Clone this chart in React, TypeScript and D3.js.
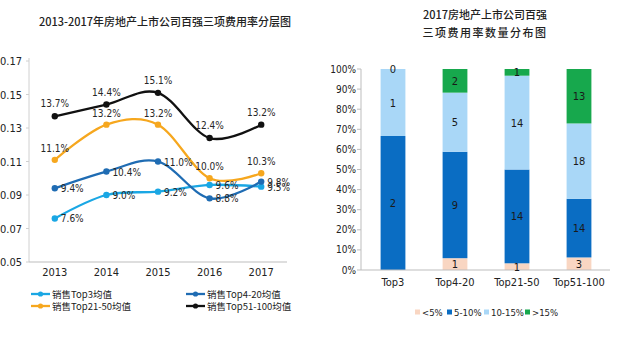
import React from "react";
import * as d3 from "d3";

// ---------- Left chart data ----------
const years = ["2013", "2014", "2015", "2016", "2017"];
const top3 = [0.076, 0.09, 0.092, 0.096, 0.095];
const top4_20 = [0.094, 0.104, 0.11, 0.088, 0.098];
const top21_50 = [0.111, 0.132, 0.132, 0.1, 0.103];
const top51_100 = [0.137, 0.144, 0.151, 0.124, 0.132];
const lineNames = ["销售Top3均值", "销售Top4-20均值", "销售Top21-50均值", "销售Top51-100均值"];
const yTicksLeft = [0.05, 0.07, 0.09, 0.11, 0.13, 0.15, 0.17];

// ---------- Right chart data ----------
const groups = ["Top3", "Top4-20", "Top21-50", "Top51-100"];
const bandNames = ["<5%", "5-10%", "10-15%", ">15%"];
const lt5 = [null, 1, 1, 3];
const b5_10 = [2, 9, 14, 14];
const b10_15 = [1, 5, 14, 18];
const gt15 = [0, 2, 1, 13];
const yTicksRight = [0, 0.1, 0.2, 0.3, 0.4, 0.5, 0.6, 0.7, 0.8, 0.9, 1];

const FONT = "'Liberation Sans Narrow', 'DejaVu Sans Condensed', 'Noto Sans CJK SC', sans-serif";
const CJK = "'Liberation Sans Narrow', 'Noto Sans CJK SC', sans-serif";

const lineColors = ["#1aa7e4", "#1f6cb3", "#f6a71e", "#111111"];
const barColors = ["#f9d6c2", "#0a6dc3", "#a9d7f7", "#17a84d"];

function LeftChart() {
  const x = d3.scalePoint<string>().domain(years).range([29, 287]).padding(0.5);
  const y = d3.scaleLinear().domain([0.05, 0.17]).range([262, 61]);
  const series = [top3, top4_20, top21_50, top51_100];
  const line = d3
    .line<number>()
    .x((_, i) => x(years[i]) as number)
    .y((v) => y(v))
    .curve(d3.curveCardinal.tension(0));
  const place = ["right", "right", "above", "above"];
  const aboveDy = [0, 0, -8, -9];
  return (
    <g>
      <text x={165} y={26} textAnchor="middle" fontFamily={CJK} fontSize={11} fontWeight={500} fill="#222">
        2013-2017年房地产上市公司百强三项费用率分层图
      </text>
      <line x1={29} x2={29} y1={58} y2={262} stroke="#d0d0d0" />
      {yTicksLeft.map((t) => (
        <g key={t}>
          <line x1={26} x2={29} y1={y(t)} y2={y(t)} stroke="#d0d0d0" />
          <text x={22} y={y(t) + 4} textAnchor="end" fontFamily={FONT} fontSize={11} fill="#222">
            {t.toFixed(2)}
          </text>
        </g>
      ))}
      <line x1={29} x2={287} y1={262} y2={262} stroke="#bdbdbd" />
      {years.map((yr) => (
        <text key={yr} x={x(yr)} y={276} textAnchor="middle" fontFamily={FONT} fontSize={11} fill="#222">
          {yr}
        </text>
      ))}
      {series.map((s, si) => (
        <g key={si}>
          <path d={line(s) || ""} fill="none" stroke={lineColors[si]} strokeWidth={2.3} />
          {s.map((v, i) => (
            <circle key={i} cx={x(years[i])} cy={y(v)} r={3.2} fill={lineColors[si]} />
          ))}
        </g>
      ))}
      {series.map((s, si) =>
        s.map((v, i) => {
          const px = x(years[i]) as number;
          const py = y(v);
          const lbl = (v * 100).toFixed(1) + "%";
          return place[si] === "right" ? (
            <text key={si + "-" + i} x={px + 6} y={py + 4} fontFamily={FONT} fontSize={10} fill="#262626">
              {lbl}
            </text>
          ) : (
            <text key={si + "-" + i} x={px} y={py + aboveDy[si]} textAnchor="middle" fontFamily={FONT} fontSize={10} fill="#262626">
              {lbl}
            </text>
          );
        })
      )}
      {lineNames.map((n, i) => {
        const lx = i % 2 === 0 ? 31 : 186;
        const ly = i < 2 ? 294 : 306;
        return (
          <g key={n}>
            <line x1={lx} x2={lx + 19} y1={ly} y2={ly} stroke={lineColors[i]} strokeWidth={2.3} />
            <circle cx={lx + 9.5} cy={ly} r={2.6} fill={lineColors[i]} />
            <text x={lx + 21} y={ly + 3.5} fontFamily={CJK} fontSize={9.5} fill="#222">
              {n}
            </text>
          </g>
        );
      })}
    </g>
  );
}

function RightChart() {
  const x = d3.scaleBand<string>().domain(groups).range([362, 610]).paddingInner(0.6).paddingOuter(0.3);
  const y = d3.scaleLinear().domain([0, 1]).range([270, 69]);
  const raw = [lt5, b5_10, b10_15, gt15];
  const totals = groups.map((_, gi) => raw.reduce((a, s) => a + (s[gi] ?? 0), 0));
  const data = groups.map((g, gi) => {
    const o: any = { group: g };
    bandNames.forEach((b, bi) => (o[b] = (raw[bi][gi] ?? 0) / totals[gi]));
    return o;
  });
  const stacked = d3.stack<any>().keys(bandNames)(data);
  const legendX = [415, 447, 484, 525];
  return (
    <g>
      <text x={485} y={19} textAnchor="middle" fontFamily={CJK} fontSize={11} fontWeight={500} fill="#222">
        2017房地产上市公司百强
      </text>
      <text x={485} y={37} textAnchor="middle" fontFamily={CJK} fontSize={11} fontWeight={500} fill="#222" letterSpacing={1.5}>
        三项费用率数量分布图
      </text>
      <line x1={361} x2={361} y1={69} y2={270} stroke="#bdbdbd" />
      {yTicksRight.map((t) => (
        <g key={t}>
          <line x1={357} x2={361} y1={y(t)} y2={y(t)} stroke="#bdbdbd" />
          <text x={356} y={y(t) + 3.5} textAnchor="end" fontFamily={FONT} fontSize={10} fill="#222">
            {Math.round(t * 100) + "%"}
          </text>
        </g>
      ))}
      {stacked.map((layer, li) => (
        <g key={layer.key}>
          {layer.map((d, gi) => (
            <rect
              key={gi}
              x={x(groups[gi])}
              width={x.bandwidth()}
              y={y(d[1])}
              height={Math.max(0, y(d[0]) - y(d[1]))}
              fill={barColors[li]}
            />
          ))}
        </g>
      ))}
      <line x1={361} x2={610} y1={270} y2={270} stroke="#bdbdbd" />
      {stacked.map((layer, li) =>
        layer.map((d, gi) => {
          const v = raw[li][gi];
          if (v === null || v === undefined) return null;
          const cy = (y(d[0]) + y(d[1])) / 2;
          return (
            <text
              key={li + "-" + gi}
              x={(x(groups[gi]) as number) + x.bandwidth() / 2}
              y={cy + 4}
              textAnchor="middle"
              fontFamily={FONT}
              fontSize={11}
              fill="#1a1a1a"
            >
              {v}
            </text>
          );
        })
      )}
      {groups.map((g) => (
        <text key={g} x={(x(g) as number) + x.bandwidth() / 2} y={286} textAnchor="middle" fontFamily={FONT} fontSize={11} fill="#222">
          {g}
        </text>
      ))}
      {bandNames.map((b, i) => (
        <g key={b}>
          <rect x={legendX[i]} y={309.5} width={5} height={5} fill={barColors[i]} />
          <text x={legendX[i] + 7} y={315.5} fontFamily={FONT} fontSize={9.5} fill="#222">
            {b}
          </text>
        </g>
      ))}
    </g>
  );
}

export default function App() {
  return (
    <svg
      width={640}
      height={356}
      style={{ position: "absolute", left: 0, top: 0, background: "#fff" }}
    >
      <rect width={640} height={356} fill="#fff" />
      <LeftChart />
      <RightChart />
    </svg>
  );
}
